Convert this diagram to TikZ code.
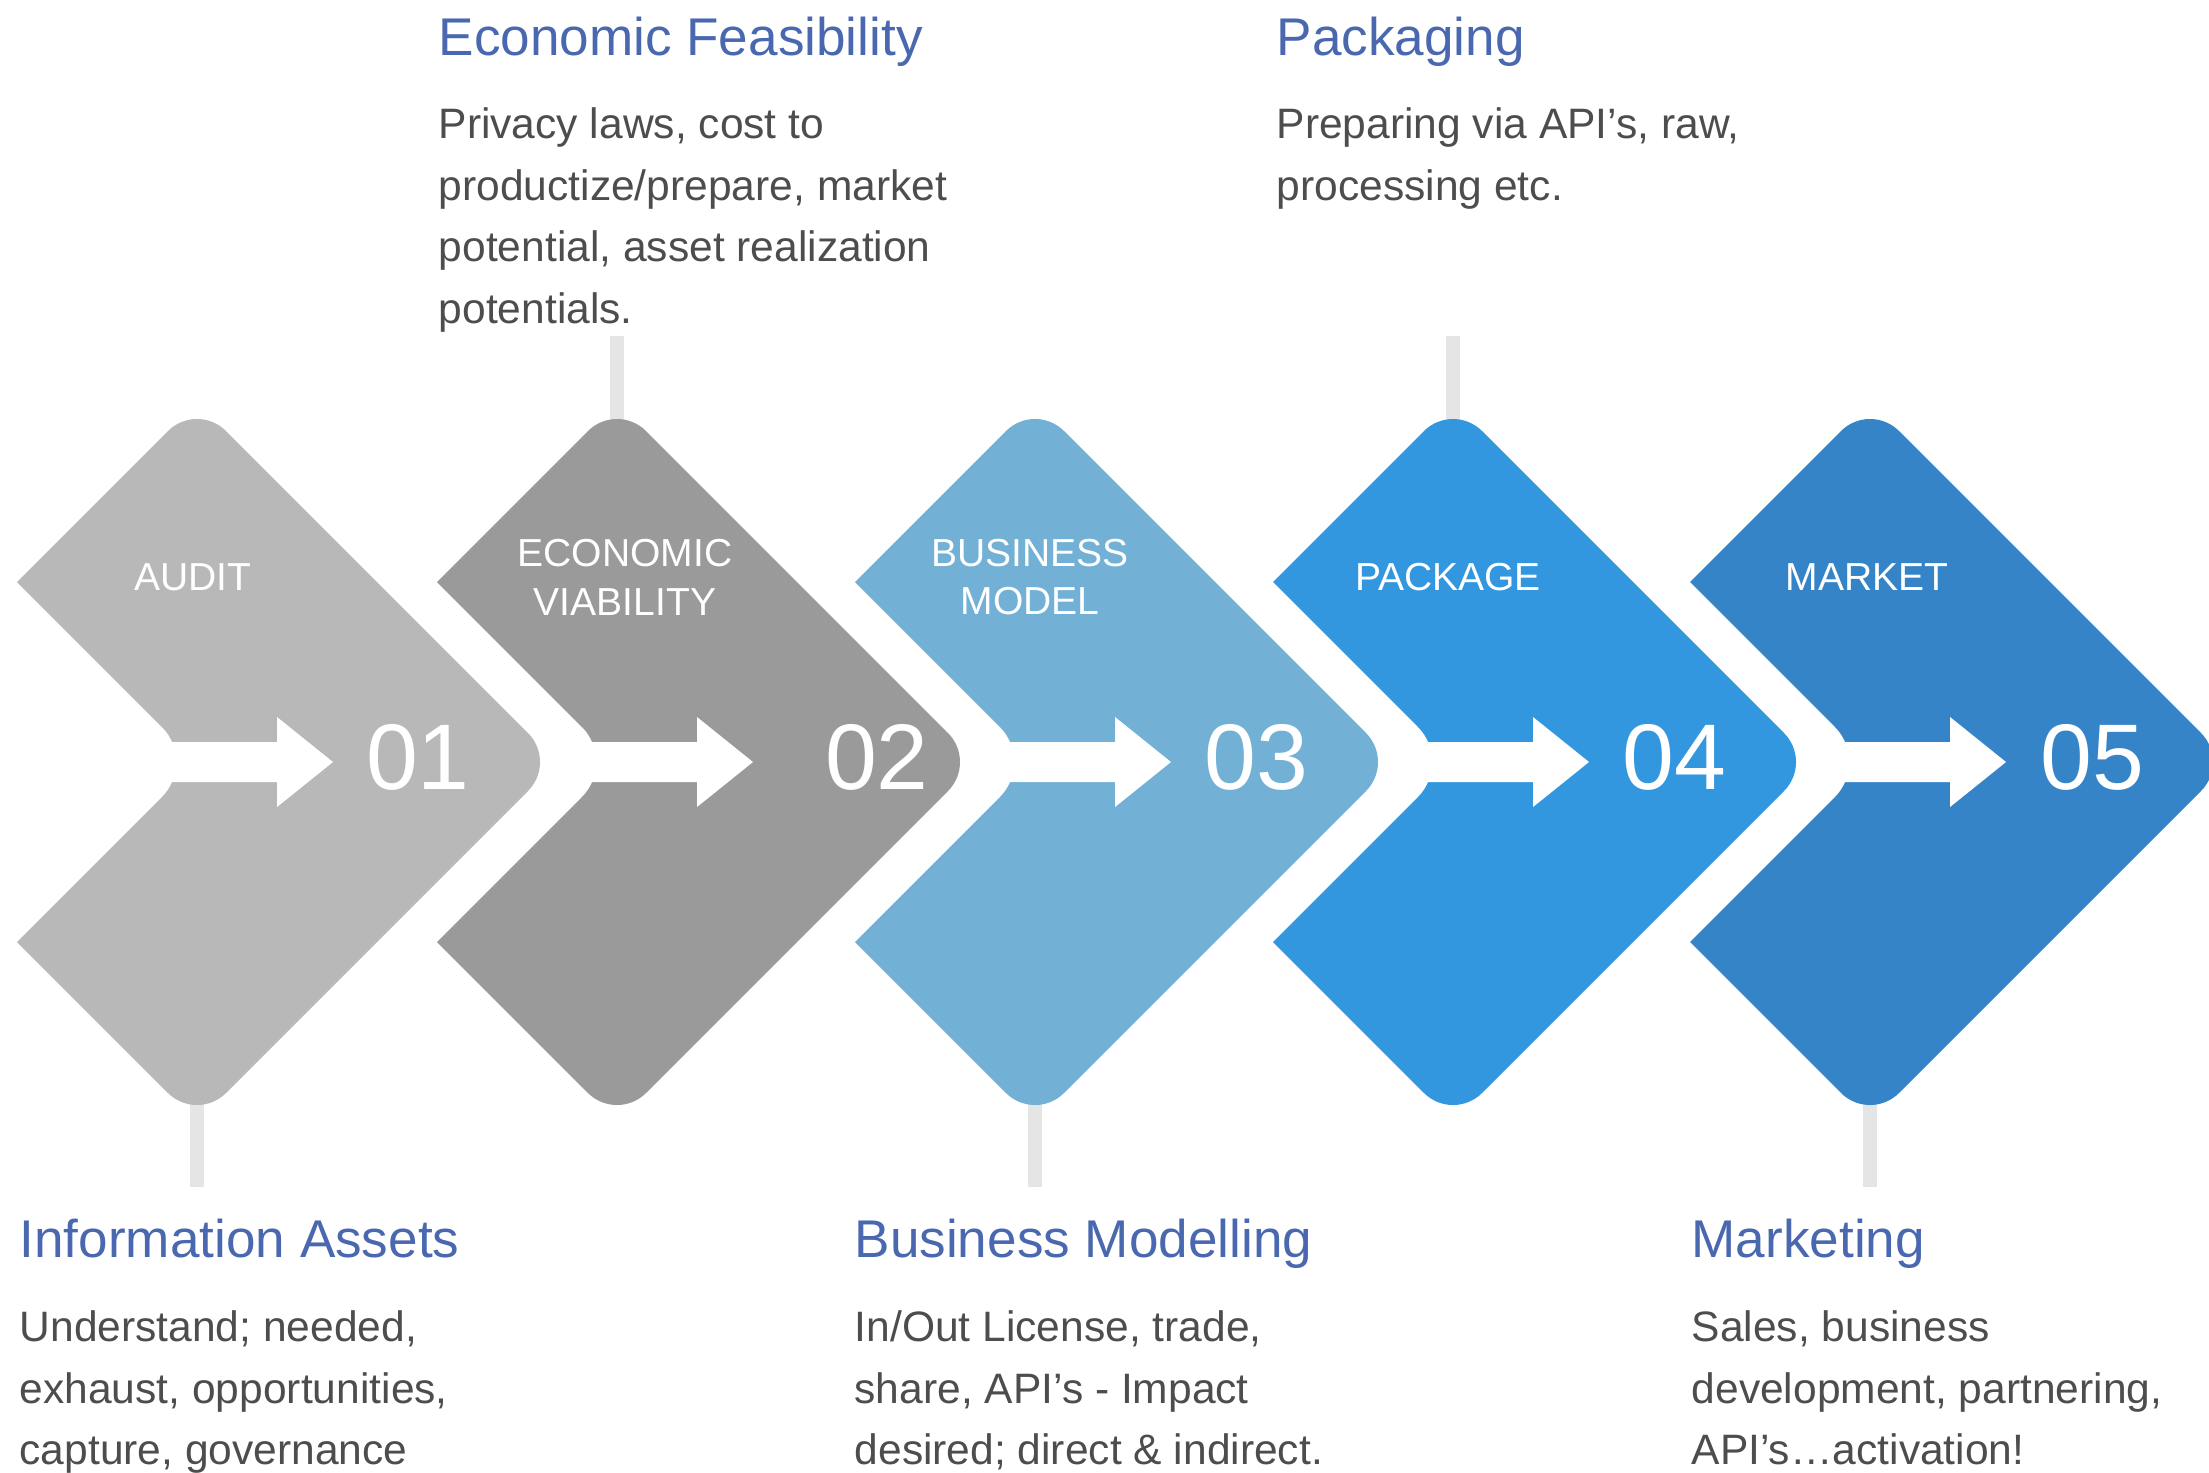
\documentclass[tikz,border=0pt]{standalone}
\usepackage{fontspec}
\setmainfont{Liberation Sans}
\usetikzlibrary{positioning}
\definecolor{auditgray}{RGB}{184,184,184}
\definecolor{econgray}{RGB}{154,154,154}
\definecolor{modelblue}{RGB}{114,176,214}
\definecolor{packblue}{RGB}{51,151,224}
\definecolor{marketblue}{RGB}{54,132,200}
\definecolor{headblue}{RGB}{74,104,176}
\definecolor{bodygray}{RGB}{77,77,77}
\definecolor{stemgray}{RGB}{229,229,229}

\begin{document}
\begin{tikzpicture}[x=0.01cm, y=-0.01cm,
    heading/.style={anchor=base west, inner sep=0pt, text=headblue, font=\fontsize{15.1}{18}\selectfont},
    blurb/.style={anchor=north west, inner sep=0pt, align=left, text=bodygray, font=\fontsize{12.1}{17.5}\selectfont},
    steplabel/.style={inner sep=0pt, align=center, text=white, font=\fontsize{11.1}{13.9}\selectfont},
    stepnum/.style={inner sep=0pt, text=white, font=\fontsize{26.5}{30}\selectfont},
    stem/.style={draw=stemgray, line width=0.14cm}]
    \useasboundingbox (0,0) rectangle (2209,1472);
    \clip (0,0) rectangle (2209,1472);

    % stems between the chevrons and their texts
    \coordinate (auditTip) at (197,1100);   \coordinate (assetsEnd) at (197,1187);
    \coordinate (econTip) at (617,424);     \coordinate (feasEnd) at (617,336);
    \coordinate (modelTip) at (1035,1100);  \coordinate (modellingEnd) at (1035,1187);
    \coordinate (packTip) at (1453,424);    \coordinate (packagingEnd) at (1453,336);
    \coordinate (marketTip) at (1870,1100); \coordinate (marketingEnd) at (1870,1187);
    \draw[stem] (auditTip) -- (assetsEnd);
    \draw[stem] (econTip) -- (feasEnd);
    \draw[stem] (modelTip) -- (modellingEnd);
    \draw[stem] (packTip) -- (packagingEnd);
    \draw[stem] (marketTip) -- (marketingEnd);

    % 01 audit
    \fill[auditgray, shift={(197,0)}] (-180,582) -- (-29,431) .. controls (-13,415) and (13,415) .. (29,431)
        -- (331,733) .. controls (347,749) and (347,775) .. (331,791)
        -- (29,1093) .. controls (13,1109) and (-13,1109) .. (-29,1093)
        -- (-180,942) -- (-35,797) .. controls (-16,778) and (-16,746) .. (-35,727) -- cycle;
    \fill[white, shift={(197,0)}] (-45,742) -- (80,742) -- (80,717) -- (136,762) -- (80,807) -- (80,782) -- (-45,782) -- cycle;
    \node[steplabel] (audit) at (193,577) {AUDIT};
    \node[stepnum] (num1) at (418,757) {01};
    % 02 economic viability
    \fill[econgray, shift={(617,0)}] (-180,582) -- (-29,431) .. controls (-13,415) and (13,415) .. (29,431)
        -- (331,733) .. controls (347,749) and (347,775) .. (331,791)
        -- (29,1093) .. controls (13,1109) and (-13,1109) .. (-29,1093)
        -- (-180,942) -- (-35,797) .. controls (-16,778) and (-16,746) .. (-35,727) -- cycle;
    \fill[white, shift={(617,0)}] (-45,742) -- (80,742) -- (80,717) -- (136,762) -- (80,807) -- (80,782) -- (-45,782) -- cycle;
    \node[steplabel] (econ) at (625,577) {ECONOMIC\\VIABILITY};
    \node[stepnum] (num2) at (877,757) {02};
    % 03 business model
    \fill[modelblue, shift={(1035,0)}] (-180,582) -- (-29,431) .. controls (-13,415) and (13,415) .. (29,431)
        -- (331,733) .. controls (347,749) and (347,775) .. (331,791)
        -- (29,1093) .. controls (13,1109) and (-13,1109) .. (-29,1093)
        -- (-180,942) -- (-35,797) .. controls (-16,778) and (-16,746) .. (-35,727) -- cycle;
    \fill[white, shift={(1035,0)}] (-45,742) -- (80,742) -- (80,717) -- (136,762) -- (80,807) -- (80,782) -- (-45,782) -- cycle;
    \node[steplabel] (model) at (1030,577) {BUSINESS\\MODEL};
    \node[stepnum] (num3) at (1256,757) {03};
    % 04 package
    \fill[packblue, shift={(1453,0)}] (-180,582) -- (-29,431) .. controls (-13,415) and (13,415) .. (29,431)
        -- (331,733) .. controls (347,749) and (347,775) .. (331,791)
        -- (29,1093) .. controls (13,1109) and (-13,1109) .. (-29,1093)
        -- (-180,942) -- (-35,797) .. controls (-16,778) and (-16,746) .. (-35,727) -- cycle;
    \fill[white, shift={(1453,0)}] (-45,742) -- (80,742) -- (80,717) -- (136,762) -- (80,807) -- (80,782) -- (-45,782) -- cycle;
    \node[steplabel] (pack) at (1448,577) {PACKAGE};
    \node[stepnum] (num4) at (1674,757) {04};
    % 05 market
    \fill[marketblue, shift={(1870,0)}] (-180,582) -- (-29,431) .. controls (-13,415) and (13,415) .. (29,431)
        -- (331,733) .. controls (347,749) and (347,775) .. (331,791)
        -- (29,1093) .. controls (13,1109) and (-13,1109) .. (-29,1093)
        -- (-180,942) -- (-35,797) .. controls (-16,778) and (-16,746) .. (-35,727) -- cycle;
    \fill[white, shift={(1870,0)}] (-45,742) -- (80,742) -- (80,717) -- (136,762) -- (80,807) -- (80,782) -- (-45,782) -- cycle;
    \node[steplabel] (market) at (1867,577) {MARKET};
    \node[stepnum] (num5) at (2092,757) {05};

    % texts above
    \node[heading] (feasHead) at (438,55) {Economic Feasibility};
    \node[blurb] (feasText) at (438,107) {Privacy laws, cost to\\productize/prepare, market\\potential, asset realization\\potentials.};
    \node[heading] (packHead) at (1276,55) {Packaging};
    \node[blurb] (packText) at (1276,107) {Preparing via API’s, raw,\\processing etc.};
    % texts below
    \node[heading] (assetsHead) at (19,1257) {Information Assets};
    \node[blurb] (assetsText) at (19,1310) {Understand; needed,\\exhaust, opportunities,\\capture, governance};
    \node[heading] (modelHead) at (854,1257) {Business Modelling};
    \node[blurb] (modelText) at (854,1310) {In/Out License, trade,\\share, API’s - Impact\\desired; direct \& indirect.};
    \node[heading] (marketHead) at (1691,1257) {Marketing};
    \node[blurb] (marketText) at (1691,1310) {Sales, business\\development, partnering,\\API’s…activation!};
\end{tikzpicture}
\end{document}
